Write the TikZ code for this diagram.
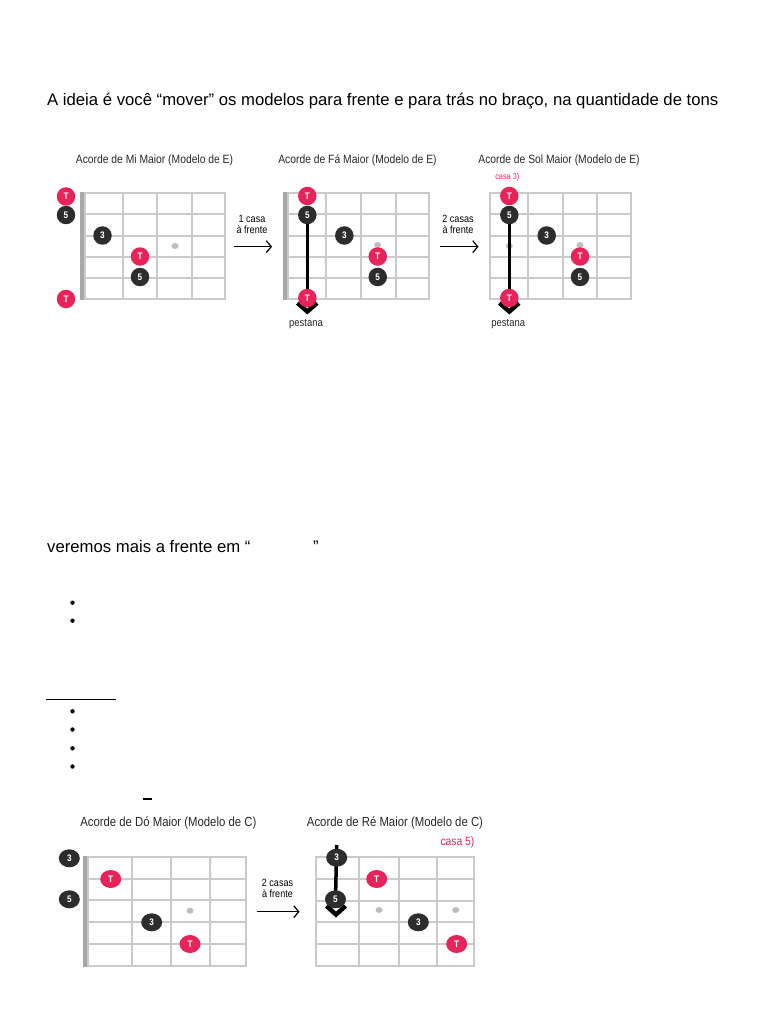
\documentclass[tikz,border=0pt]{standalone}
\usepackage{fontspec}
\setmainfont{Liberation Sans}
\newfontfamily\condf[FakeStretch=0.86]{Liberation Sans}
\usetikzlibrary{arrows.meta,shapes.geometric}
\definecolor{rootred}{RGB}{232,35,90}
\definecolor{dotdark}{RGB}{45,45,45}
\definecolor{gridgray}{RGB}{202,202,202}
\definecolor{nutgray}{RGB}{168,168,168}
\definecolor{markgray}{RGB}{190,190,190}
\definecolor{labeldark}{RGB}{40,40,40}
\newcommand\fboard[5]{%
  \foreach \gx in {#1} \draw[gridline] (\gx,#4) -- (\gx,#5);
  \foreach \k in {0,...,5} \draw[gridline] (#2,{#4+(#5-#4)*\k/5}) -- (#3,{#4+(#5-#4)*\k/5});
}
\begin{document}
\begin{tikzpicture}[x=1pt,y=-1pt,
  gridline/.style={draw=gridgray,line width=2pt,line cap=rect},
  nutbar/.style={fill=nutgray,draw=none},
  rootdot/.style={circle,fill=rootred,text=white,inner sep=0pt,minimum size=18.5pt,font=\condf\bfseries\fontsize{9.5}{9.5}\selectfont},
  notedot/.style={circle,fill=dotdark,text=white,inner sep=0pt,minimum size=18.5pt,font=\condf\bfseries\fontsize{9.5}{9.5}\selectfont},
  rootoval/.style={ellipse,fill=rootred,text=white,inner sep=0pt,minimum width=21pt,minimum height=18pt,font=\condf\bfseries\fontsize{9.5}{9.5}\selectfont},
  noteoval/.style={ellipse,fill=dotdark,text=white,inner sep=0pt,minimum width=21pt,minimum height=18pt,font=\condf\bfseries\fontsize{9.5}{9.5}\selectfont},
  fretmark/.style={ellipse,fill=markgray,inner sep=0pt,minimum width=7pt,minimum height=6pt},
  barre/.style={draw=black,line width=3.5pt},
  chev/.style={draw=black,line width=4.5pt,line join=miter},
  charttitle/.style={text=labeldark,font=\condf\fontsize{12}{14}\selectfont,inner sep=0pt},
  bigtitle/.style={text=labeldark,font=\condf\fontsize{13.2}{15}\selectfont,inner sep=0pt},
  movelabel/.style={text=black,font=\condf\fontsize{10.5}{11.5}\selectfont,align=center,inner sep=0pt},
  movearrow/.style={draw=black,line width=1.2pt,-{Straight Barb[length=5pt,width=12pt,line width=1.2pt]}},
  smallred/.style={text=rootred,inner sep=0pt},
  barrelabel/.style={inner sep=0pt,font=\condf\fontsize{11}{12}\selectfont,text=labeldark},
  bodytext/.style={anchor=base west,inner sep=0pt,font=\fontsize{16.7}{20}\selectfont},
  bulletdot/.style={circle,fill=black,inner sep=0pt,minimum size=4.4pt}
]
\useasboundingbox[fill=white] (0,0) rectangle (768,1024);

% ---------- body text ----------
\node[bodytext] (intro) at (47,106) {A ideia é você “mover” os modelos para frente e para trás no braço, na quantidade de tons};
\node[bodytext] (veremos) at (47,552) {veremos mais a frente em “};
\node[bodytext] (closeq) at (313,552) {”};
\node[bulletdot] (b1) at (72.5,602.7) {};
\node[bulletdot] (b2) at (72.5,620.7) {};
\draw[line width=1.5pt] (46,699.3) -- (116,699.3);
\node[bulletdot] (b3) at (72.5,711.3) {};
\node[bulletdot] (b4) at (72.5,729.5) {};
\node[bulletdot] (b5) at (72.5,748.3) {};
\node[bulletdot] (b6) at (72.5,766.5) {};
\draw[line width=2pt] (142.5,799) -- (151.5,799);

% ---------- chart 1: Mi maior ----------
\node[charttitle] (t1) at (154.5,160.5) {Acorde de Mi Maior (Modelo de E)};
\fill[nutgray] (79.5,192.5) rectangle (85.5,300);
\fboard{85,122.7,157.3,191.7,225}{85}{225}{193.5}{298.5}
\node[fretmark] (m1) at (175,246) {};
\node[rootdot] (c1a) at (66,196.5) {T};
\node[notedot] (c1b) at (66,215) {5};
\node[notedot] (c1c) at (102.5,235.5) {3};
\node[rootdot] (c1d) at (140,256.5) {T};
\node[notedot] (c1e) at (140,277) {5};
\node[rootdot] (c1f) at (66,299) {T};

% arrow 1
\node[movelabel] (l1) at (252,224.5) {1 casa\\à frente};
\coordinate (a1s) at (234,246.7);
\coordinate (a1e) at (272,246.7);
\draw[movearrow] (a1s) -- (a1e);

% ---------- chart 2: Fa maior ----------
\node[charttitle] (t2) at (357.5,160.5) {Acorde de Fá Maior (Modelo de E)};
\fill[nutgray] (282.5,192.5) rectangle (288.5,300);
\fboard{288.3,325.7,360.7,395.7,429}{288.3}{429}{193.5}{298.5}
\node[fretmark] (m2) at (377.7,245) {};
\draw[chev] (297.5,303) -- (307.3,311.5) -- (317,303);
\draw[barre] (307.3,215) -- (307.3,298);
\node[rootdot] (c2a) at (307.3,196) {T};
\node[notedot] (c2b) at (307.3,215) {5};
\node[notedot] (c2c) at (344.3,235.5) {3};
\node[rootdot] (c2d) at (377.7,256.5) {T};
\node[notedot] (c2e) at (377.7,277) {5};
\node[rootdot] (c2f) at (307.3,298) {T};
\node[barrelabel] (p2) at (306,324) {pestana};

% arrow 2
\node[movelabel] (l2) at (458,224.5) {2 casas\\à frente};
\coordinate (a2s) at (440,246.7);
\coordinate (a2e) at (478.5,246.7);
\draw[movearrow] (a2s) -- (a2e);

% ---------- chart 3: Sol maior ----------
\node[charttitle] (t3) at (559,160.5) {Acorde de Sol Maior (Modelo de E)};
\node[smallred,font=\condf\fontsize{8.5}{9}\selectfont] (k3) at (507.3,177.7) {casa 3)};
\fboard{490,527.7,562.7,596.7,630.7}{490}{630.7}{193.5}{298.5}
\node[fretmark] (m3a) at (509.3,246) {};
\node[fretmark] (m3b) at (580,245) {};
\draw[chev] (499.5,303) -- (509.3,311.5) -- (519,303);
\draw[barre] (509.3,215) -- (509.3,298);
\node[rootdot] (c3a) at (509.3,196) {T};
\node[notedot] (c3b) at (509.3,215) {5};
\node[notedot] (c3c) at (546.7,235.5) {3};
\node[rootdot] (c3d) at (580,256.5) {T};
\node[notedot] (c3e) at (580,277) {5};
\node[rootdot] (c3f) at (509.3,298) {T};
\node[barrelabel] (p3) at (508.3,324) {pestana};

% ---------- chart 4: Do maior ----------
\node[bigtitle] (t4) at (168.3,822.7) {Acorde de Dó Maior (Modelo de C)};
\fill[nutgray] (82.5,856) rectangle (88.5,967);
\fboard{88.3,131.7,170.7,210,246}{88.3}{246}{856.7}{965.7}
\node[fretmark] (m4) at (190,910.7) {};
\node[noteoval] (c4a) at (69.3,858.3) {3};
\node[rootoval] (c4b) at (110.7,879) {T};
\node[noteoval] (c4c) at (69.3,899.3) {5};
\node[noteoval] (c4d) at (151.7,922.3) {3};
\node[rootoval] (c4e) at (190,944) {T};

% arrow 3
\node[movelabel] (l3) at (277.5,888.5) {2 casas\\à frente};
\coordinate (a3s) at (256.7,911.7);
\coordinate (a3e) at (299.5,911.7);
\draw[movearrow] (a3s) -- (a3e);

% ---------- chart 5: Re maior ----------
\node[bigtitle] (t5) at (395,822.7) {Acorde de Ré Maior (Modelo de C)};
\node[smallred,font=\condf\fontsize{12}{13}\selectfont] (k5) at (457.5,842.3) {casa 5)};
\fboard{316,359,399,436.7,474.3}{316}{474.3}{857.3}{965.7}
\node[fretmark] (m5a) at (379,910) {};
\node[fretmark] (m5b) at (455.7,910) {};
\draw[chev] (326.5,906) -- (336,914.5) -- (345.5,906);
\draw[barre] (336.7,845) -- (335.5,899.3);
\node[noteoval] (c5a) at (336.7,857.7) {3};
\node[rootoval] (c5b) at (376.7,879) {T};
\node[noteoval] (c5c) at (335.5,899.3) {5};
\node[noteoval] (c5d) at (418.3,922.3) {3};
\node[rootoval] (c5e) at (456.7,944) {T};
\end{tikzpicture}
\end{document}
